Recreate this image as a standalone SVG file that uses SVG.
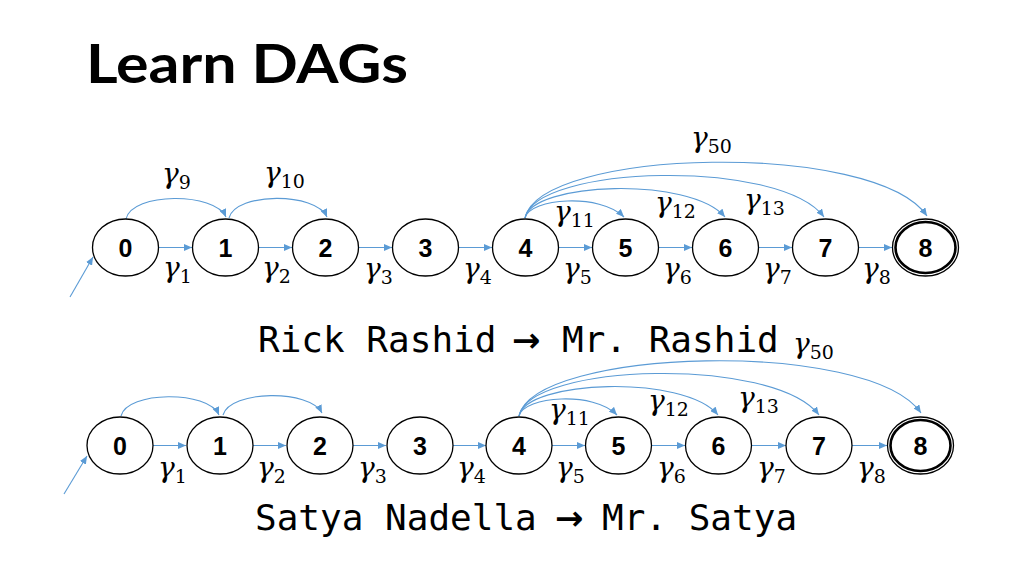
<svg xmlns="http://www.w3.org/2000/svg" width="1024" height="576" viewBox="0 0 1024 576">
<style>
.title{font-family:"Lato","Liberation Sans",sans-serif;font-weight:700;font-size:53px;fill:#000}
.n{fill:#fff;stroke:#000;stroke-width:1.3}
.lbl{font-family:"Liberation Sans",Arial,sans-serif;font-weight:700;font-size:25px;fill:#000;text-anchor:middle}
.e{fill:none;stroke:#5B9BD5;stroke-width:1.1;marker-end:url(#ah)}
.g{font-family:"DejaVu Serif","Liberation Serif",serif;font-style:italic;font-size:28px;fill:#000}
.s{font-style:normal;font-size:19px}
.mono{font-family:"DejaVu Sans Mono","Liberation Mono",monospace;font-size:36px;fill:#000}
.arr{font-family:"DejaVu Sans",sans-serif;font-weight:700;font-size:34px}
</style>
<defs>
<marker id="ah" markerUnits="userSpaceOnUse" markerWidth="8" markerHeight="7" refX="8" refY="3.5" orient="auto">
<path d="M0,0 L8,3.5 L0,7 z" fill="#5B9BD5"/>
</marker>
</defs>
<rect width="1024" height="576" fill="#fff"/>
<text class="title" x="86" y="83" textLength="322" lengthAdjust="spacingAndGlyphs">Learn DAGs</text>

<g id="connectors">
<!-- top row -->
<line class="e" x1="70" y1="297" x2="93" y2="257"/>
<line class="e" x1="159" y1="247.5" x2="192" y2="247.5"/>
<line class="e" x1="259" y1="247.5" x2="292" y2="247.5"/>
<line class="e" x1="359" y1="247.5" x2="392" y2="247.5"/>
<line class="e" x1="459" y1="247.5" x2="492" y2="247.5"/>
<line class="e" x1="559" y1="247.5" x2="592" y2="247.5"/>
<line class="e" x1="659" y1="247.5" x2="692" y2="247.5"/>
<line class="e" x1="759" y1="247.5" x2="792" y2="247.5"/>
<line class="e" x1="859" y1="247.5" x2="892" y2="247.5"/>
<path class="e" d="M126,219 C132,192 215,192 226,217"/>
<path class="e" d="M229,218 C236,192 316,192 327,217"/>
<path class="e" d="M525,218 C530,198 600,193 624,217"/>
<path class="e" d="M525,218 C532,182 690,176 725,217"/>
<path class="e" d="M525,218 C535,165 780,158 824,217"/>
<path class="e" d="M525,218 C540,148 875,140 927,216"/>
<!-- bottom row -->
<line class="e" x1="64" y1="494" x2="87" y2="456"/>
<line class="e" x1="153" y1="445.5" x2="186" y2="445.5"/>
<line class="e" x1="253" y1="445.5" x2="286" y2="445.5"/>
<line class="e" x1="353" y1="445.5" x2="386" y2="445.5"/>
<line class="e" x1="453" y1="445.5" x2="486" y2="445.5"/>
<line class="e" x1="552" y1="445.5" x2="585" y2="445.5"/>
<line class="e" x1="652" y1="445.5" x2="685" y2="445.5"/>
<line class="e" x1="752" y1="445.5" x2="786" y2="445.5"/>
<line class="e" x1="852" y1="445.5" x2="887" y2="445.5"/>
<path class="e" d="M121,416 C127,391 208,390 219,415"/>
<path class="e" d="M223,415 C230,390 310,389 322,413"/>
<path class="e" d="M519,416 C524,396 594,391 617,415"/>
<path class="e" d="M519,416 C526,380 684,374 718,415"/>
<path class="e" d="M519,416 C529,363 774,356 819,415"/>
<path class="e" d="M519,416 C534,348 869,338 921,413"/>
</g>

<g id="top-n0"><ellipse class="n" cx="125.5" cy="247.5" rx="33" ry="28.5"/><text class="lbl" x="125.5" y="257">0</text></g>
<g id="top-n1"><ellipse class="n" cx="225.5" cy="247.5" rx="33" ry="28.5"/><text class="lbl" x="225.5" y="257">1</text></g>
<g id="top-n2"><ellipse class="n" cx="325.5" cy="247.5" rx="33" ry="28.5"/><text class="lbl" x="325.5" y="257">2</text></g>
<g id="top-n3"><ellipse class="n" cx="425.5" cy="247.5" rx="33" ry="28.5"/><text class="lbl" x="425.5" y="257">3</text></g>
<g id="top-n4"><ellipse class="n" cx="525.5" cy="247.5" rx="33" ry="28.5"/><text class="lbl" x="525.5" y="257">4</text></g>
<g id="top-n5"><ellipse class="n" cx="625.5" cy="247.5" rx="33" ry="28.5"/><text class="lbl" x="625.5" y="257">5</text></g>
<g id="top-n6"><ellipse class="n" cx="725.5" cy="247.5" rx="33" ry="28.5"/><text class="lbl" x="725.5" y="257">6</text></g>
<g id="top-n7"><ellipse class="n" cx="825.5" cy="247.5" rx="33" ry="28.5"/><text class="lbl" x="825.5" y="257">7</text></g>
<g id="top-n8"><ellipse class="n" cx="925.5" cy="247.5" rx="33" ry="28.5" stroke-width="1.2"/><ellipse fill="none" stroke="#000" stroke-width="2.6" cx="925.5" cy="247.5" rx="30" ry="25.5"/><text class="lbl" x="925.5" y="257">8</text></g>

<g id="bot-n0"><ellipse class="n" cx="120" cy="445.5" rx="33" ry="28.5"/><text class="lbl" x="120" y="455">0</text></g>
<g id="bot-n1"><ellipse class="n" cx="220" cy="445.5" rx="33" ry="28.5"/><text class="lbl" x="220" y="455">1</text></g>
<g id="bot-n2"><ellipse class="n" cx="320" cy="445.5" rx="33" ry="28.5"/><text class="lbl" x="320" y="455">2</text></g>
<g id="bot-n3"><ellipse class="n" cx="420" cy="445.5" rx="33" ry="28.5"/><text class="lbl" x="420" y="455">3</text></g>
<g id="bot-n4"><ellipse class="n" cx="519" cy="445.5" rx="33" ry="28.5"/><text class="lbl" x="519" y="455">4</text></g>
<g id="bot-n5"><ellipse class="n" cx="618.5" cy="445.5" rx="33" ry="28.5"/><text class="lbl" x="618.5" y="455">5</text></g>
<g id="bot-n6"><ellipse class="n" cx="718.5" cy="445.5" rx="33" ry="28.5"/><text class="lbl" x="718.5" y="455">6</text></g>
<g id="bot-n7"><ellipse class="n" cx="819" cy="445.5" rx="33" ry="28.5"/><text class="lbl" x="819" y="455">7</text></g>
<g id="bot-n8"><ellipse class="n" cx="920.5" cy="445.5" rx="33" ry="28.5" stroke-width="1.2"/><ellipse fill="none" stroke="#000" stroke-width="2.6" cx="920.5" cy="445.5" rx="30" ry="25.5"/><text class="lbl" x="920.5" y="455">8</text></g>

<g id="labels">
<text class="g" x="162" y="183">γ<tspan class="s" dy="6">9</tspan></text>
<text class="g" x="264" y="182">γ<tspan class="s" dy="6">10</tspan></text>
<text class="g" x="163" y="277">γ<tspan class="s" dy="6">1</tspan></text>
<text class="g" x="262" y="277">γ<tspan class="s" dy="6">2</tspan></text>
<text class="g" x="364" y="278">γ<tspan class="s" dy="6">3</tspan></text>
<text class="g" x="463" y="278">γ<tspan class="s" dy="6">4</tspan></text>
<text class="g" x="563" y="278">γ<tspan class="s" dy="6">5</tspan></text>
<text class="g" x="663" y="278">γ<tspan class="s" dy="6">6</tspan></text>
<text class="g" x="763" y="278">γ<tspan class="s" dy="6">7</tspan></text>
<text class="g" x="862" y="278">γ<tspan class="s" dy="6">8</tspan></text>
<text class="g" x="554" y="221">γ<tspan class="s" dy="6">11</tspan></text>
<text class="g" x="655" y="212">γ<tspan class="s" dy="6">12</tspan></text>
<text class="g" x="744" y="209">γ<tspan class="s" dy="6">13</tspan></text>
<text class="g" x="691" y="147">γ<tspan class="s" dy="6">50</tspan></text>

<text class="g" x="158" y="477">γ<tspan class="s" dy="6">1</tspan></text>
<text class="g" x="257" y="477">γ<tspan class="s" dy="6">2</tspan></text>
<text class="g" x="358" y="477">γ<tspan class="s" dy="6">3</tspan></text>
<text class="g" x="457" y="477">γ<tspan class="s" dy="6">4</tspan></text>
<text class="g" x="556" y="477">γ<tspan class="s" dy="6">5</tspan></text>
<text class="g" x="657" y="477">γ<tspan class="s" dy="6">6</tspan></text>
<text class="g" x="757" y="477">γ<tspan class="s" dy="6">7</tspan></text>
<text class="g" x="857" y="477">γ<tspan class="s" dy="6">8</tspan></text>
<text class="g" x="549" y="419">γ<tspan class="s" dy="6">11</tspan></text>
<text class="g" x="648" y="410">γ<tspan class="s" dy="6">12</tspan></text>
<text class="g" x="738" y="407">γ<tspan class="s" dy="6">13</tspan></text>
<text class="g" x="793" y="353">γ<tspan class="s" dy="6">50</tspan></text>

<text class="mono" x="258" y="352">Rick Rashid<tspan class="arr" x="512">→</tspan><tspan x="562">Mr. Rashid</tspan></text>
<text class="mono" x="255" y="530">Satya Nadella<tspan class="arr" x="555">→</tspan><tspan x="602">Mr. Satya</tspan></text>
</g>
</svg>
